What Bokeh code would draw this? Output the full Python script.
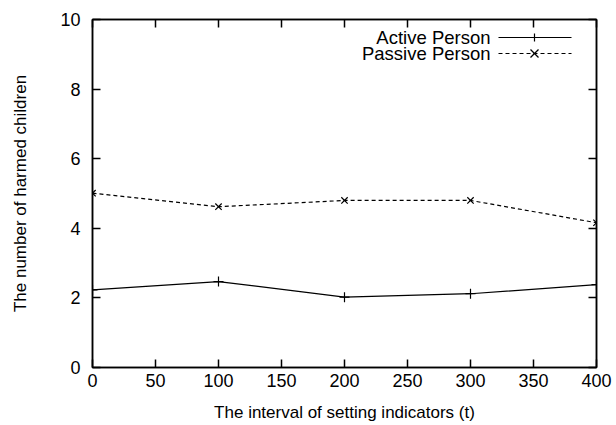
from bokeh.plotting import figure
from bokeh.models import Range1d, LinearAxis, FixedTicker, Label, Arrow, CustomLabelingPolicy
from bokeh.embed import file_html
from bokeh.resources import INLINE

# ---- data ----
t_values = [0, 100, 200, 300, 400]
active_person = [2.23, 2.47, 2.02, 2.12, 2.38]
passive_person = [5.01, 4.62, 4.80, 4.80, 4.16]
x_ticks = [0, 50, 100, 150, 200, 250, 300, 350, 400]
y_ticks = [0, 2, 4, 6, 8, 10]
series_names = ["Active Person", "Passive Person"]
x_title = "The interval of setting indicators (t)"
y_title = "The number of harmed children"

FONT = "Liberation Sans"
TICK_FS = "18px"
TITLE_FS = "17px"
LEG_FS = "18.5px"

p = figure(frame_width=504, frame_height=348,
           output_backend="svg", toolbar_location=None,
           x_range=Range1d(0, 400), y_range=Range1d(0, 10),
           min_border_left=92, min_border_right=20,
           min_border_top=19, min_border_bottom=58)
p.xgrid.visible = False
p.ygrid.visible = False
p.outline_line_color = "black"
p.outline_line_width = 1.5
p.background_fill_color = "white"
p.border_fill_color = "white"

hide_all = CustomLabelingPolicy(code="for (const i of [...indices]) { indices.unset(i) } return indices")


def style_axis(ax, ticks, show_labels=True):
    ax.ticker = FixedTicker(ticks=ticks)
    ax.major_tick_in = 8
    ax.major_tick_out = 0
    ax.minor_tick_in = 0
    ax.minor_tick_out = 0
    ax.major_tick_line_color = "black"
    ax.major_tick_line_width = 1.5
    ax.axis_line_color = "black"
    ax.axis_line_width = 1.5
    ax.major_label_text_font = FONT
    ax.major_label_text_color = "black"
    if show_labels:
        ax.major_label_text_font_size = TICK_FS
    else:
        ax.major_label_text_font_size = "0px"
        ax.major_label_standoff = 0
        ax.major_label_policy = hide_all


style_axis(p.xaxis[0], x_ticks)
style_axis(p.yaxis[0], y_ticks)
p.xaxis.major_label_standoff = 6
p.yaxis.major_label_standoff = 12
p.xaxis.axis_label = x_title
p.yaxis.axis_label = y_title
for ax in (p.xaxis[0], p.yaxis[0]):
    ax.axis_label_text_font = FONT
    ax.axis_label_text_font_size = TITLE_FS
    ax.axis_label_text_font_style = "normal"
    ax.axis_label_text_color = "black"
p.xaxis.axis_label_standoff = 13
p.yaxis.axis_label_standoff = 27

top_ax = LinearAxis()
style_axis(top_ax, x_ticks, show_labels=False)
p.add_layout(top_ax, "above")
right_ax = LinearAxis()
style_axis(right_ax, y_ticks, show_labels=False)
p.add_layout(right_ax, "right")

# ---- series ----
p.line(t_values, active_person, line_color="black", line_width=1.2)
p.scatter(t_values, active_person, marker="cross", size=10, line_color="black", line_width=1.2)
p.line(t_values, passive_person, line_color="black", line_width=1.2, line_dash="4 3")
p.scatter(t_values, passive_person, marker="x", size=9, line_color="black", line_width=1.2)

# ---- legend (gnuplot style: text then sample) ----
rows_y = [330, 314]
for name, ry, dash, mk in zip(series_names, rows_y, ["solid", "4 3"], ["+", "x"]):
    p.add_layout(Label(x=398, y=ry, x_units="screen", y_units="screen", text=name,
                       text_align="right", text_baseline="middle",
                       text_font=FONT, text_font_size=LEG_FS, text_color="black"))
    p.add_layout(Arrow(x_start=406, y_start=ry, x_end=479, y_end=ry,
                       start_units="screen", end_units="screen", start=None, end=None,
                       line_color="black", line_width=1.2, line_dash=dash))
    cx = 442
    if mk == "+":
        p.add_layout(Arrow(x_start=cx, y_start=ry - 4, x_end=cx, y_end=ry + 4,
                           start_units="screen", end_units="screen", start=None, end=None,
                           line_color="black", line_width=1.2))
    else:
        p.add_layout(Arrow(x_start=cx - 4, y_start=ry - 4, x_end=cx + 4, y_end=ry + 4,
                           start_units="screen", end_units="screen", start=None, end=None,
                           line_color="black", line_width=1.2))
        p.add_layout(Arrow(x_start=cx - 4, y_start=ry + 4, x_end=cx + 4, y_end=ry - 4,
                           start_units="screen", end_units="screen", start=None, end=None,
                           line_color="black", line_width=1.2))

open("out.html", "w").write(file_html(p, INLINE))
